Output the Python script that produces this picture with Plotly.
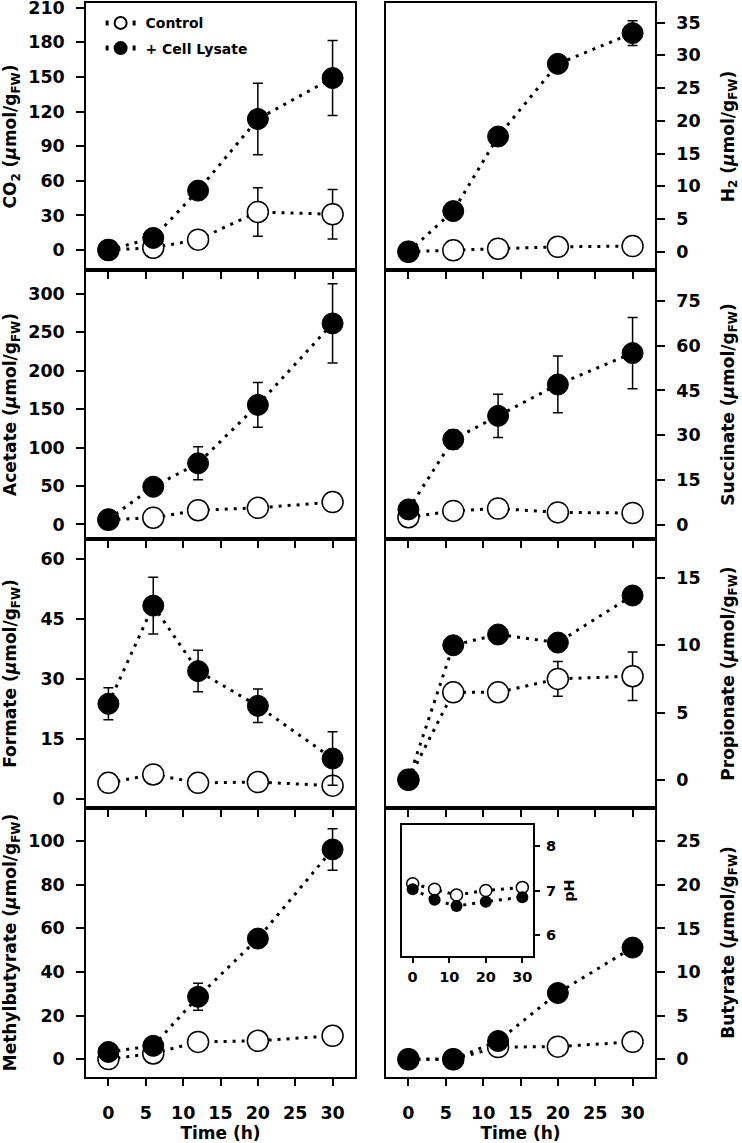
import plotly.graph_objects as go

W, H = 742, 1143
times = [0, 6, 12, 20, 30]

co2_control = [0, 2, 9, 33, 31]
co2_control_err = [0, 0, 0, 21, 21.5]
co2_lysate = [0, 10.5, 51.5, 113.5, 149]
co2_lysate_err = [0, 0, 0, 31, 32.5]

h2_control = [0, 0.2, 0.45, 0.75, 0.85]
h2_control_err = [0, 0, 0, 0, 0]
h2_lysate = [0, 6.2, 17.6, 28.7, 33.4]
h2_lysate_err = [0, 0, 0, 0, 1.9]

acetate_control = [6, 8.7, 18.5, 21.5, 29]
acetate_control_err = [0, 0, 0, 0, 0]
acetate_lysate = [6.5, 49, 79.5, 155.5, 261.5]
acetate_lysate_err = [0, 0, 21.5, 29, 51.5]

succinate_control = [2.6, 4.7, 5.5, 4.2, 4.0]
succinate_control_err = [0, 0, 0, 0, 0]
succinate_lysate = [5.2, 28.6, 36.5, 47, 57.5]
succinate_lysate_err = [0, 3.2, 7.2, 9.5, 11.9]

formate_control = [4.0, 6.1, 4.0, 4.2, 3.3]
formate_control_err = [0, 0, 0, 0, 0]
formate_lysate = [23.8, 48.4, 32.0, 23.3, 10.1]
formate_lysate_err = [4.0, 7.1, 5.2, 4.2, 6.7]

propionate_control = [0, 6.5, 6.5, 7.5, 7.7]
propionate_control_err = [0, 0, 0, 1.3, 1.8]
propionate_lysate = [0, 10.0, 10.8, 10.2, 13.7]
propionate_lysate_err = [0, 0, 0, 0, 0]

methylbutyrate_control = [0, 2.6, 7.9, 8.4, 10.7]
methylbutyrate_control_err = [0, 0, 0, 0, 0]
methylbutyrate_lysate = [3.3, 6.1, 28.6, 55.3, 96.2]
methylbutyrate_lysate_err = [0, 0, 6.2, 0, 9.5]

butyrate_control = [0, 0, 1.4, 1.45, 2.0]
butyrate_control_err = [0, 0, 0, 0, 0]
butyrate_lysate = [0, 0, 2.1, 7.6, 12.8]
butyrate_lysate_err = [0, 0, 0, 0, 0]

ph_control = [7.15, 7.03, 6.9, 7.0, 7.07]
ph_lysate = [7.03, 6.79, 6.65, 6.75, 6.85]

x_ticks = [0, 5, 10, 15, 20, 25, 30]
inset_x_ticks = [0, 10, 20, 30]
inset_y_ticks = [6, 7, 8]

UNIT = " (<i>μ</i>mol/g<sub>FW</sub>)"
panels = [
    # (title, row, col, control, control_err, lysate, lysate_err, yrange, dtick)
    ("CO<sub>2</sub>" + UNIT, 0, 0, co2_control, co2_control_err, co2_lysate, co2_lysate_err, [-17.3, 214], 30),
    ("H<sub>2</sub>" + UNIT, 0, 1, h2_control, h2_control_err, h2_lysate, h2_lysate_err, [-2.8, 38], 5),
    ("Acetate" + UNIT, 1, 0, acetate_control, acetate_control_err, acetate_lysate, acetate_lysate_err, [-19, 331], 50),
    ("Succinate" + UNIT, 1, 1, succinate_control, succinate_control_err, succinate_lysate, succinate_lysate_err, [-4.7, 85.3], 15),
    ("Formate" + UNIT, 2, 0, formate_control, formate_control_err, formate_lysate, formate_lysate_err, [-2.3, 65.1], 15),
    ("Propionate" + UNIT, 2, 1, propionate_control, propionate_control_err, propionate_lysate, propionate_lysate_err, [-2.1, 17.9], 5),
    ("Methylbutyrate" + UNIT, 3, 0, methylbutyrate_control, methylbutyrate_control_err, methylbutyrate_lysate, methylbutyrate_lysate_err, [-8.2, 115.2], 20),
    ("Butyrate" + UNIT, 3, 1, butyrate_control, butyrate_control_err, butyrate_lysate, butyrate_lysate_err, [-2.03, 28.8], 5),
]

col_px = [(86, 355), (386, 655)]
row_px = [(3, 270), (270, 539), (539, 808), (808, 1077)]

FONT = "DejaVu Sans, Liberation Sans, Arial, sans-serif"
DOT = "3px,6px"

fig = go.Figure()
layout = dict(
    template="none",
    width=W, height=H,
    margin=dict(l=0, r=0, t=0, b=0, autoexpand=False),
    paper_bgcolor="white", plot_bgcolor="white",
    font=dict(family=FONT, size=17, color="black", weight="bold"),
    showlegend=True,
    legend=dict(x=0.1356, y=0.9936, xanchor="left", yanchor="top",
                bgcolor="rgba(0,0,0,0)", font=dict(size=14, weight="bold"),
                itemsizing="constant", tracegroupgap=4),
)

for i, (title, r, c, ctl, ctl_err, lys, lys_err, yr, dt) in enumerate(panels):
    n = i + 1
    xs = "" if n == 1 else str(n)
    x0, x1 = col_px[c]
    y0, y1 = row_px[r]
    fig.add_trace(go.Scatter(
        x=times, y=ctl, mode="lines+markers", name="\u00a0Control",
        showlegend=(n == 1), legendgroup="ctl",
        line=dict(color="black", width=3, dash=DOT),
        marker=dict(size=21, color="white", line=dict(color="black", width=1.5)),
        error_y=dict(type="data", array=ctl_err, color="black", thickness=1.5, width=5),
        xaxis="x" + xs, yaxis="y" + xs))
    fig.add_trace(go.Scatter(
        x=times, y=lys, mode="lines+markers", name="\u00a0+ Cell Lysate",
        showlegend=(n == 1), legendgroup="lys",
        line=dict(color="black", width=3, dash=DOT),
        marker=dict(size=21, color="black", line=dict(color="black", width=1)),
        error_y=dict(type="data", array=lys_err, color="black", thickness=1.5, width=5),
        xaxis="x" + xs, yaxis="y" + xs))
    xa = dict(
        domain=[x0 / W, x1 / W], anchor="y" + xs, range=[-3, 33], automargin=False,
        tickvals=x_ticks, ticks="outside", ticklen=7, tickwidth=1.5, tickcolor="black",
        showline=True, linewidth=1.5, linecolor="black", mirror=True,
        showgrid=False, zeroline=False, showticklabels=(r == 3),
        tickfont=dict(size=17.5), ticklabelstandoff=12, ticklabeloverflow="allow",
    )
    if r == 3:
        xa["title"] = dict(text="Time (h)", font=dict(size=17), standoff=0)
    layout["xaxis" + xs] = xa
    if c == 0:
        standoff = 25 if max(abs(v) for v in yr) < 100 else 13
    else:
        standoff = 22
    layout["yaxis" + xs] = dict(
        domain=[1 - y1 / H, 1 - y0 / H], anchor="x" + xs, range=yr, dtick=dt, tick0=0,
        side="left" if c == 0 else "right", automargin=False,
        ticks="outside", ticklen=8, tickwidth=1.5, tickcolor="black",
        showline=True, linewidth=1.5, linecolor="black", mirror=True,
        showgrid=False, zeroline=False, tickfont=dict(size=17.5),
        ticklabelstandoff=8, ticklabeloverflow="allow",
        title=dict(text=title, font=dict(size=17), standoff=standoff),
    )

# inset pH
fig.add_trace(go.Scatter(
    x=times, y=ph_control, mode="lines+markers", name="Control", showlegend=False,
    line=dict(color="black", width=3, dash=DOT),
    marker=dict(size=12, color="white", line=dict(color="black", width=1.5)),
    xaxis="x9", yaxis="y9"))
fig.add_trace(go.Scatter(
    x=times, y=ph_lysate, mode="lines+markers", name="+ Cell Lysate", showlegend=False,
    line=dict(color="black", width=3, dash=DOT),
    marker=dict(size=12, color="black"),
    xaxis="x9", yaxis="y9"))
layout["xaxis9"] = dict(
    domain=[401.7 / W, 533.3 / W], anchor="y9", range=[-3, 33], tickvals=inset_x_ticks,
    automargin=False, ticks="outside", ticklen=5, tickwidth=1.5, tickcolor="black",
    showline=True, linewidth=1.5, linecolor="black", mirror=True,
    showgrid=False, zeroline=False, tickfont=dict(size=14.5), ticklabelstandoff=2)
layout["yaxis9"] = dict(
    domain=[1 - 956 / H, 1 - 825 / H], anchor="x9", side="right", range=[5.53, 8.47],
    automargin=False, tickvals=inset_y_ticks, ticks="outside", ticklen=5, tickwidth=1.5,
    tickcolor="black", showline=True, linewidth=1.5, linecolor="black", mirror=True,
    showgrid=False, zeroline=False, tickfont=dict(size=14.5), ticklabelstandoff=3,
    title=dict(text="pH", font=dict(size=14.5), standoff=9))

fig.update_layout(**layout)
fig.write_html("out.html", config={"displayModeBar": False},
               post_script="document.body.style.margin='0px';document.body.style.overflow='hidden';")
